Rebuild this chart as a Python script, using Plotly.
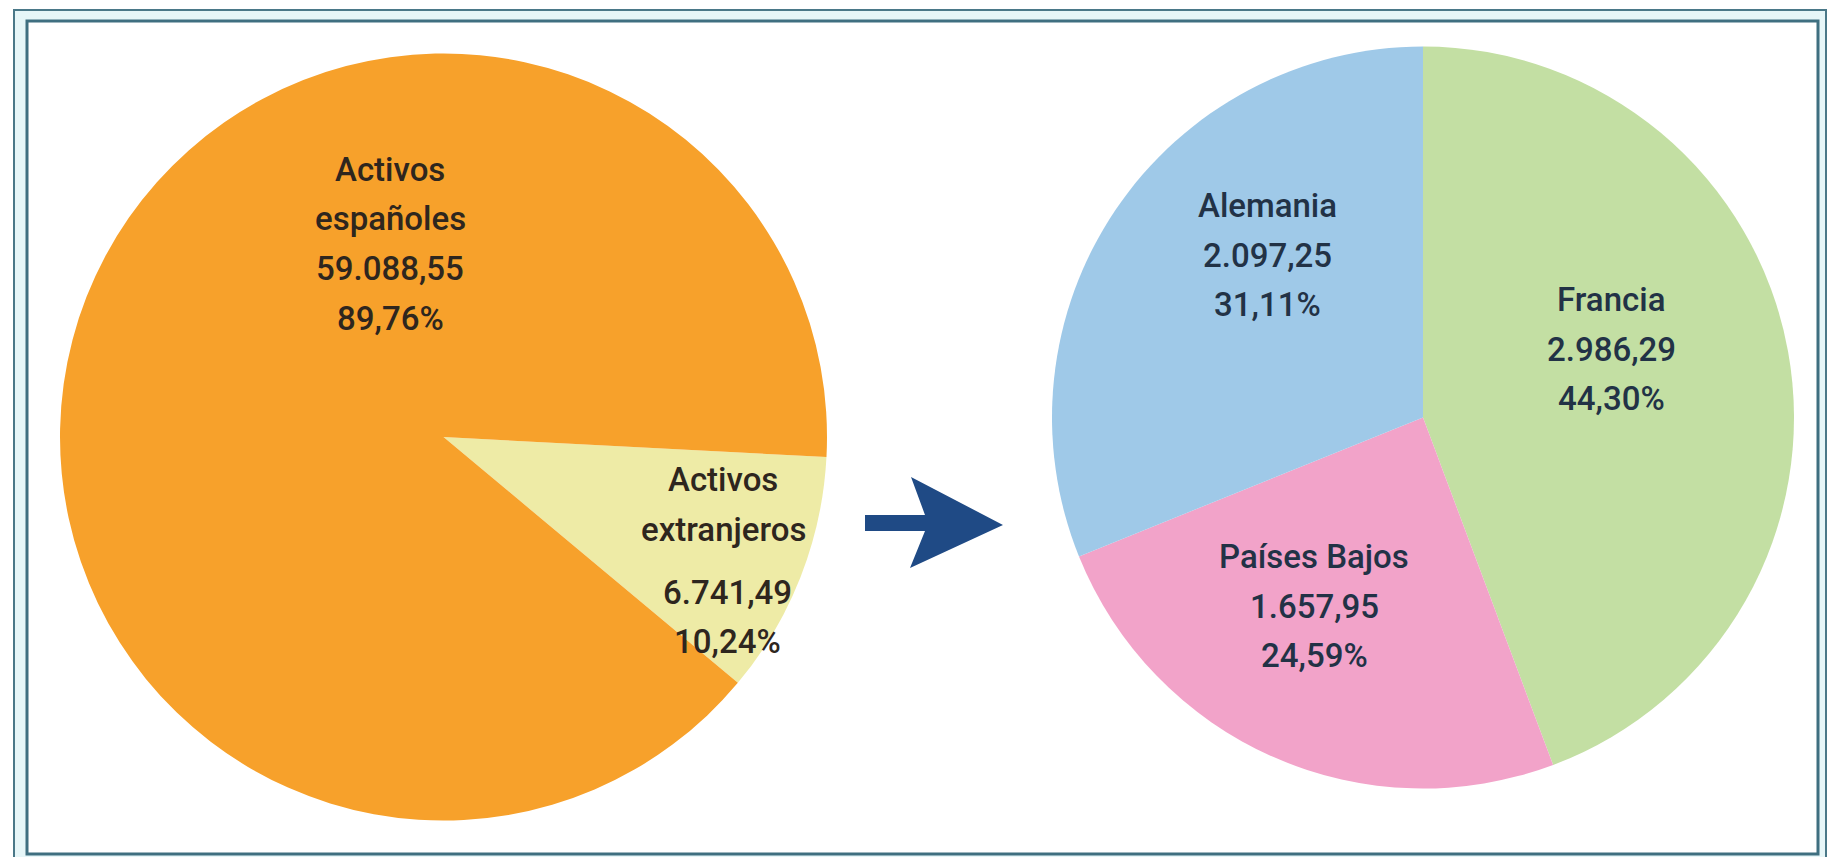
import plotly.graph_objects as go

# Left pie: Spanish vs foreign assets
left_labels = ["Activos extranjeros", "Activos españoles"]
left_values = [6741.49, 59088.55]
left_colors = ["#EEEBA6", "#F7A12B"]

# Right pie: breakdown of foreign assets
right_labels = ["Francia", "Países Bajos", "Alemania"]
right_values = [2986.29, 1657.95, 2097.25]
right_colors = ["#C3DFA3", "#F2A3C9", "#9FC9E8"]

W, H = 1827, 857


def es_num(v):
    s = f"{v:,.2f}"
    return s.replace(",", "X").replace(".", ",").replace("X", ".")


def pct(v, values):
    return es_num(100 * v / sum(values)) + "%"


def px(x):
    return x / W


def py(y):
    return 1 - y / H


fig = go.Figure()

fig.add_trace(go.Pie(
    labels=left_labels, values=left_values, sort=False,
    direction="clockwise", rotation=93,
    marker=dict(colors=left_colors, line=dict(width=0)),
    textinfo="none", hoverinfo="label+value+percent",
    domain=dict(x=[px(60), px(827)], y=[py(820.5), py(53.5)]),
))

fig.add_trace(go.Pie(
    labels=right_labels, values=right_values, sort=False,
    direction="clockwise", rotation=0,
    marker=dict(colors=right_colors, line=dict(width=0)),
    textinfo="none", hoverinfo="label+value+percent",
    domain=dict(x=[px(1052), px(1794)], y=[py(788.5), py(46.5)]),
))

font_l = dict(family="Roboto, Liberation Sans, Arial", size=33, color="#2e261e", weight=500)
font_r = dict(family="Roboto, Liberation Sans, Arial", size=33, color="#223246", weight=500)

# label blocks: (lines, x centre, y centre of each line)
blocks = [
    (["Activos", "españoles", es_num(left_values[1]), pct(left_values[1], left_values)],
     390, [169, 219, 269, 318], font_l),
    (["Activos", "extranjeros"], 723, [480, 529], font_l),
    ([es_num(left_values[0]), pct(left_values[0], left_values)], 727, [592, 641], font_l),
    (["Francia", es_num(right_values[0]), pct(right_values[0], right_values)],
     1611, [299, 349, 398], font_r),
    (["Países Bajos", es_num(right_values[1]), pct(right_values[1], right_values)],
     1314, [556, 606, 655], font_r),
    (["Alemania", es_num(right_values[2]), pct(right_values[2], right_values)],
     1267, [206, 256, 305], font_r),
]

annotations = []
for lines, xc, ys, f in blocks:
    for txt, yc in zip(lines, ys):
        annotations.append(dict(
            x=px(xc), y=py(yc), text=txt, font=f,
            xref="paper", yref="paper", showarrow=False,
            xanchor="center", yanchor="middle",
        ))

# double frame + arrow between the pies
shapes = [
    dict(type="rect", xref="paper", yref="paper", layer="below",
         x0=px(14), x1=px(1826), y0=py(858), y1=py(10),
         fillcolor="#E6F6F8", line=dict(color="#4A7888", width=2)),
    dict(type="rect", xref="paper", yref="paper", layer="below",
         x0=px(27), x1=px(1818), y0=py(854), y1=py(21),
         fillcolor="white", line=dict(color="#3F6F80", width=3)),
    dict(type="path", xref="paper", yref="paper", layer="above",
         path=(f"M {px(865)} {py(515)} L {px(925)} {py(515)} L {px(911)} {py(477)} "
               f"L {px(1003)} {py(525)} L {px(910)} {py(568)} L {px(925)} {py(531)} "
               f"L {px(865)} {py(531)} Z"),
         fillcolor="#1F4A85", line=dict(width=0)),
]

fig.update_layout(
    width=W, height=H,
    margin=dict(l=0, r=0, t=0, b=0),
    paper_bgcolor="white",
    showlegend=False,
    annotations=annotations,
    shapes=shapes,
)

fig.write_html(
    "out.html",
    config={"displayModeBar": False},
    post_script="document.body.style.margin='0';document.body.style.overflow='hidden';",
)
